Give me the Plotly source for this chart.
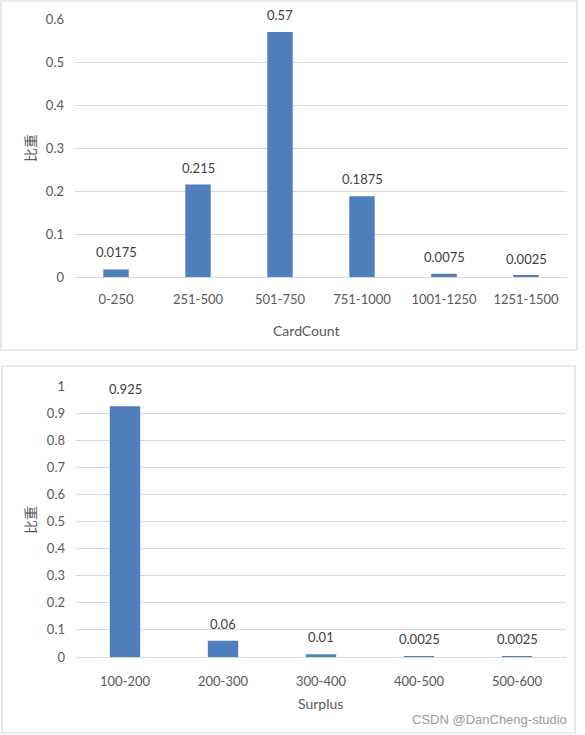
import plotly.graph_objects as go

W, H = 585, 735

card_cats = ["0-250", "251-500", "501-750", "751-1000", "1001-1250", "1251-1500"]
card_vals = [0.0175, 0.215, 0.57, 0.1875, 0.0075, 0.0025]
card_labels = ["0.0175", "0.215", "0.57", "0.1875", "0.0075", "0.0025"]
card_ticks = [0, 0.1, 0.2, 0.3, 0.4, 0.5, 0.6]

surp_cats = ["100-200", "200-300", "300-400", "400-500", "500-600"]
surp_vals = [0.925, 0.06, 0.01, 0.0025, 0.0025]
surp_labels = ["0.925", "0.06", "0.01", "0.0025", "0.0025"]
surp_ticks = [0, 0.1, 0.2, 0.3, 0.4, 0.5, 0.6, 0.7, 0.8, 0.9, 1]

BAR = "#4F7EBD"
GRID = "#D9D9D9"
TXT = "#595959"
FONT = "Lato, 'Open Sans', sans-serif"

def px(x):
    return x / W

def py(y):
    return 1 - y / H

fig = go.Figure()
fig.add_trace(go.Bar(x=card_cats, y=card_vals, marker_color=BAR, marker_line_width=0,
                     xaxis="x", yaxis="y", showlegend=False, hoverinfo="x+y"))
fig.add_trace(go.Bar(x=surp_cats, y=surp_vals, marker_color=BAR, marker_line_width=0,
                     xaxis="x2", yaxis="y2", showlegend=False, hoverinfo="x+y"))

annotations = []
for c, v, t in zip(card_cats, card_vals, card_labels):
    annotations.append(dict(x=c, y=v, xref="x", yref="y", text=t, showarrow=False,
                            xanchor="center", yanchor="bottom", yshift=7,
                            font=dict(size=13, color="#404040", family=FONT)))
for c, v, t in zip(surp_cats, surp_vals, surp_labels):
    annotations.append(dict(x=c, y=v, xref="x2", yref="y2", text=t, showarrow=False,
                            xanchor="center", yanchor="bottom", yshift=7,
                            font=dict(size=13, color="#404040", family=FONT)))

CJK = "'Noto Sans CJK SC', sans-serif"
annotations += [
    dict(x=px(30), y=py(148), xref="paper", yref="paper", text="比重", textangle=-90, showarrow=False,
         xanchor="center", yanchor="middle", font=dict(size=14, color=TXT, family=CJK)),
    dict(x=px(306), y=py(330), xref="paper", yref="paper", text="CardCount", showarrow=False,
         xanchor="center", yanchor="middle", font=dict(size=14, color=TXT, family=FONT)),
    dict(x=px(30), y=py(520), xref="paper", yref="paper", text="比重", textangle=-90, showarrow=False,
         xanchor="center", yanchor="middle", font=dict(size=14, color=TXT, family=CJK)),
    dict(x=px(320), y=py(703), xref="paper", yref="paper", text="Surplus", showarrow=False,
         xanchor="center", yanchor="middle", font=dict(size=14, color=TXT, family=FONT)),
    dict(x=px(569), y=py(719), xref="paper", yref="paper", text="CSDN @DanCheng-studio", showarrow=False,
         xanchor="right", yanchor="middle",
         font=dict(size=13, color="#9A9A9A", family="'Liberation Sans', Arial, sans-serif")),
]

shapes = [
    dict(type="rect", xref="paper", yref="paper", x0=px(1), x1=px(577), y0=py(350), y1=py(1),
         line=dict(color=GRID, width=1.2), fillcolor="rgba(0,0,0,0)", layer="below"),
    dict(type="rect", xref="paper", yref="paper", x0=px(2), x1=px(575), y0=py(733), y1=py(366),
         line=dict(color=GRID, width=1.2), fillcolor="rgba(0,0,0,0)", layer="below"),
]

tickfont = dict(size=13, color=TXT, family=FONT)

fig.update_layout(
    width=W, height=H, margin=dict(l=0, r=0, t=0, b=0, pad=0, autoexpand=False),
    paper_bgcolor="white", plot_bgcolor="white",
    bargap=0.69,
    annotations=annotations, shapes=shapes,
    xaxis=dict(domain=[px(75), px(567)], anchor="y", showgrid=False, showline=True, linecolor=GRID,
               linewidth=1, ticks="", tickfont=tickfont, ticklabelstandoff=10, automargin=False),
    yaxis=dict(domain=[py(277), py(19)], anchor="x", range=[0, 0.6], tickvals=card_ticks,
               ticktext=[f"{t:g}" for t in card_ticks], showgrid=True, gridcolor=GRID, gridwidth=1,
               zeroline=False, showline=False, ticks="", tickfont=tickfont, ticklabelstandoff=10,
               automargin=False),
    xaxis2=dict(domain=[px(76), px(566)], anchor="y2", showgrid=False, showline=True, linecolor=GRID,
                linewidth=1, ticks="", tickfont=tickfont, ticklabelstandoff=12, automargin=False),
    yaxis2=dict(domain=[py(657), py(386)], anchor="x2", range=[0, 1], tickvals=surp_ticks,
                ticktext=[f"{t:g}" for t in surp_ticks], showgrid=True, gridcolor=GRID, gridwidth=1,
                zeroline=False, showline=False, ticks="", tickfont=tickfont, ticklabelstandoff=10,
                automargin=False),
)

fig.write_html("out.html")
